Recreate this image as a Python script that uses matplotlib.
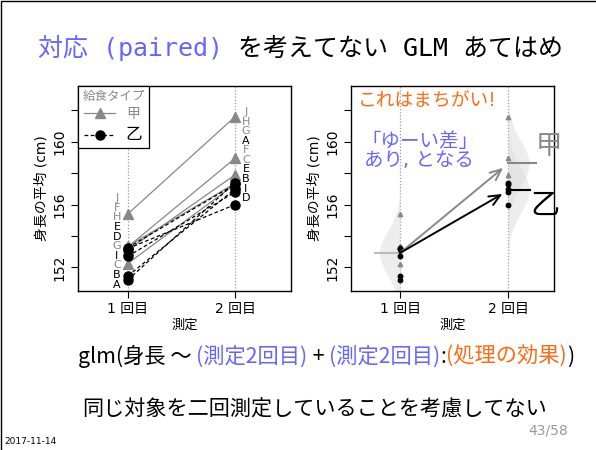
import numpy as np
import matplotlib.pyplot as plt

plt.rcParams['font.family'] = ['DejaVu Sans', 'Noto Sans CJK JP']

# data: mean height per individual, 1st and 2nd measurement
ids = ['A', 'B', 'C', 'D', 'E', 'F', 'G', 'H', 'I', 'J']
group = ['乙', '乙', '甲', '乙', '乙', '甲', '甲', '甲', '乙', '甲']
time1 = [151.2, 151.45, 152.25, 153.2, 153.25, 153.35, 153.1, 153.3, 152.7, 155.4]
time2 = [157.4, 157.0, 157.3, 156.0, 157.3, 157.35, 157.9, 158.95, 156.8, 161.6]
xlabels = ['1 回目', '2 回目']
yticks = [152, 154, 156, 158, 160, 162]
ytick_labels = ['152', '', '156', '', '160', '']
model_sd = 1.4

BLUE = '#6666ff'
ORANGE = '#ff6a13'
GRAY = '#888888'

t1 = np.array(time1)
t2 = np.array(time2)
g = np.array(group)
m1 = t1.mean()
m2 = {k: t2[g == k].mean() for k in ['甲', '乙']}

fig = plt.figure(figsize=(5.96, 4.5), dpi=100)
bg = fig.add_axes([0, 0, 1, 1])
bg.set_xlim(0, 596)
bg.set_ylim(450, 0)
bg.axis('off')
bg.add_patch(plt.Rectangle((0.5, 0.5), 700, 700, fill=False, lw=1, ec='black'))


def setup(ax, xlim):
    ax.set_xlim(*xlim)
    ax.set_ylim(150.5, 163.55)
    ax.set_xticks([1, 2])
    ax.set_xticklabels(xlabels, fontsize=10)
    ax.set_yticks(yticks)
    ax.set_yticklabels(ytick_labels, fontsize=10, rotation=90, va='center')
    ax.tick_params(length=5, width=0.8, pad=3)
    ax.set_xlabel('測定', fontsize=9.5, labelpad=2)
    ax.set_ylabel('身長の平均 (cm)', fontsize=10, labelpad=3)
    for s in ax.spines.values():
        s.set_linewidth(1)
    for x in [1, 2]:
        ax.axvline(x, color='#999999', ls=(0, (1, 1.5)), lw=0.9, zorder=0)


# left panel: individual lines
ax1 = fig.add_axes([78 / 596, 1 - 291 / 450, 213 / 596, 205 / 450])
setup(ax1, (0.537, 2.52))
for i in range(len(ids)):
    if group[i] == '甲':
        ax1.plot([1, 2], [t1[i], t2[i]], color=GRAY, lw=0.9, marker='^', ms=6.5, zorder=2)
    else:
        ax1.plot([1, 2], [t1[i], t2[i]], color='black', lw=0.9, ls=(0, (3, 2)),
                 marker='o', ms=6.5, zorder=3)

# id labels stacked in rank order
step = 0.61
for x, vals, top, dx in [(1, t1, 156.4, -0.1), (2, t2, 161.9, 0.1)]:
    order = np.argsort(-vals)
    for k, i in enumerate(order):
        c = GRAY if group[i] == '甲' else 'black'
        ax1.text(x + dx, top - k * step, ids[i], color=c, fontsize=8,
                 ha='center', va='center')

h1, = ax1.plot([], [], color=GRAY, lw=0.9, marker='^', ms=6.5)
h2, = ax1.plot([], [], color='black', lw=0.9, ls=(0, (3, 2)), marker='o', ms=6.5)
leg = ax1.legend([h1, h2], ['甲', '乙'], title='給食タイプ', loc='upper left',
                 borderaxespad=0, fancybox=False, edgecolor='black', fontsize=10,
                 title_fontsize=9, handlelength=2.2, framealpha=1,
                 borderpad=0.3, labelspacing=0.3)
leg.get_frame().set_linewidth(0.9)
leg.get_title().set_color(GRAY)
leg.get_texts()[0].set_color(GRAY)
leg.get_texts()[1].set_fontsize(12)

# right panel: fitted model
ax2 = fig.add_axes([351 / 596, 1 - 291 / 450, 203 / 596, 205 / 450])
setup(ax2, (0.548, 2.42))
yy = np.linspace(145, 168, 400)
width = 0.19


def dens(mu):
    return width * np.exp(-0.5 * ((yy - mu) / model_sd) ** 2)


ax2.fill_betweenx(yy, 1 - dens(m1), 1, color='#dddddd', alpha=0.5, lw=0, zorder=1)
for k in ['甲', '乙']:
    ax2.fill_betweenx(yy, 2, 2 + dens(m2[k]), color='#dddddd', alpha=0.5, lw=0, zorder=1)

n_a = (g == '甲').sum()
n_b = (g == '乙').sum()
ax2.plot([1] * n_a, t1[g == '甲'], color=GRAY, marker='^', ms=3.2, ls='none', zorder=3)
ax2.plot([2] * n_a, t2[g == '甲'], color=GRAY, marker='^', ms=3.2, ls='none', zorder=3)
ax2.plot([1] * n_b, t1[g == '乙'], color='black', marker='o', ms=3.2, ls='none', zorder=3)
ax2.plot([2] * n_b, t2[g == '乙'], color='black', marker='o', ms=3.2, ls='none', zorder=3)

ax2.plot([0.77, 1.0], [m1, m1], color='#bbbbbb', lw=1.5, zorder=2)
ax2.plot([2.0, 2.25], [m2['甲'], m2['甲']], color=GRAY, lw=1.5, zorder=2)
ax2.plot([2.0, 2.2], [m2['乙'], m2['乙']], color='black', lw=1.5, zorder=4)
ax2.text(2.25, m2['甲'] + 0.2, '甲', color=GRAY, fontsize=19, ha='left', va='bottom')
ax2.text(2.2, m2['乙'] - 0.1, '乙', color='black', fontsize=21, ha='left', va='top')

for k, c in [('甲', GRAY), ('乙', 'black')]:
    ax2.annotate('', xy=(2, m2[k]), xytext=(1, m1),
                 arrowprops=dict(arrowstyle='->,head_length=0.8,head_width=0.35',
                                 color=c, lw=1.4, shrinkA=0, shrinkB=5), zorder=5)

ax2.text(0.61, 162.6, 'これはまちがい!', color=ORANGE, fontsize=13.5, va='center')
ax2.text(1.185, 160.0, '「ゆーい差」', color=BLUE, fontsize=14, ha='center', va='center')
ax2.text(1.17, 158.8, 'あり, となる', color=BLUE, fontsize=14, ha='center', va='center')

# slide texts, pieces chained left to right
def chain(pieces, x, y, fs, family):
    prev = None
    for s, c in pieces:
        if prev is None:
            prev = bg.text(x, y, s, color=c, fontsize=fs, family=family, va='baseline')
        else:
            prev = bg.annotate(s, xy=(1, 0), xycoords=prev, color=c, fontsize=fs,
                               family=family, va='bottom', ha='left')


mono = ['DejaVu Sans Mono', 'Noto Sans CJK JP']
chain([('対応 (paired)', BLUE), (' を考えてない GLM あてはめ', 'black')], 38, 56, 18, mono)

sans = ['Noto Sans CJK JP']
chain([('glm(身長 ～ ', 'black'), ('(測定2回目)', BLUE), (' + ', 'black'),
       ('(測定2回目)', BLUE), (':', 'black'), ('(処理の効果)', ORANGE), (')', 'black')],
      78, 363, 15.3, sans)

bg.text(315, 410, '同じ対象を二回測定していることを考慮してない', fontsize=15.2,
        family=sans, ha='center', va='center')
bg.text(568, 431, '43/58', fontsize=10, color='#999999', ha='right', va='center')
bg.text(4, 442, '2017-11-14', fontsize=6.5, ha='left', va='center')

fig.savefig('out.png', dpi=100)
